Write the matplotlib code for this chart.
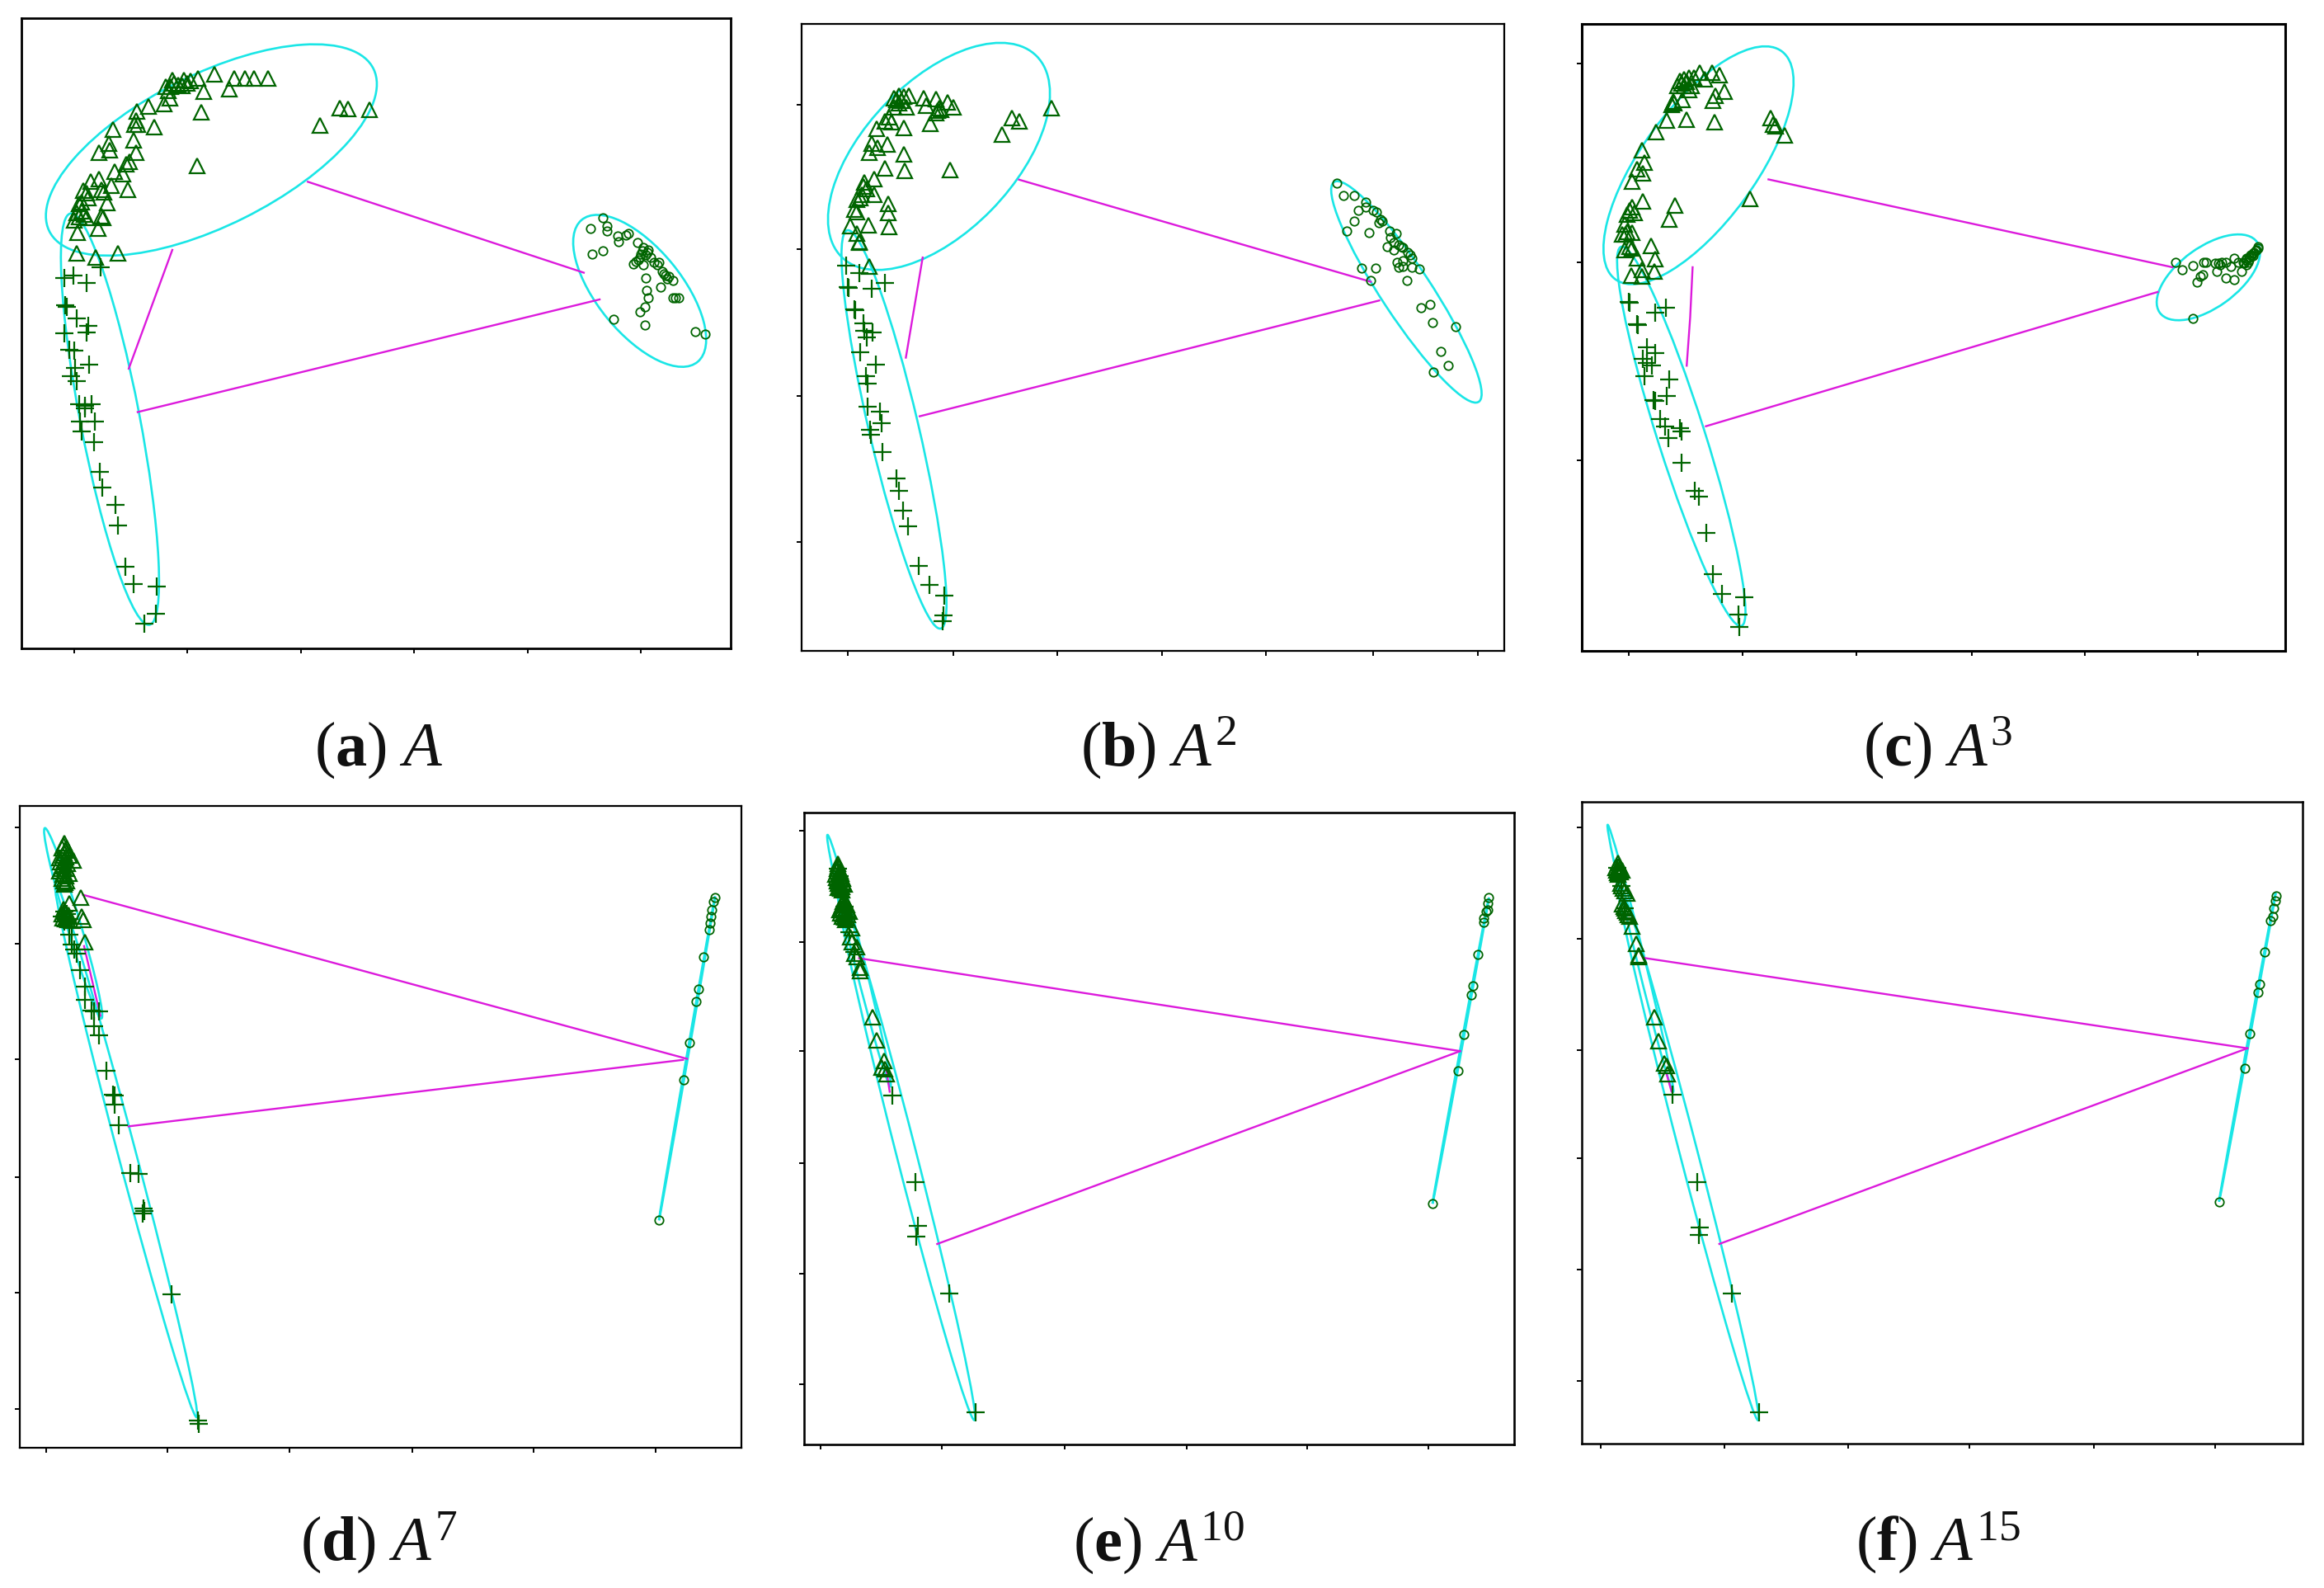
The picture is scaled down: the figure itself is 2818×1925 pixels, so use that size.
import matplotlib
matplotlib.use("Agg")
import matplotlib.pyplot as plt
from matplotlib.patches import Ellipse

plt.rcParams['mathtext.fontset'] = 'custom'
plt.rcParams['mathtext.rm'] = 'Liberation Serif'
plt.rcParams['mathtext.it'] = 'Liberation Serif:italic'
plt.rcParams['mathtext.bf'] = 'Liberation Serif:bold'

W, H = 2818, 1925

a_tri = [(348,158),(372,158),(400,155),(433,147),(473,155),(495,155),(513,155),(541,156),(335,172),(345,172),(360,168),(378,165),
         (412,182),(463,176),(343,195),(332,206),(300,210),(276,220),(407,223),(274,238),(272,246),(278,246),(312,252),(228,256),
         (686,214),(703,216),(746,217),(646,249),(270,278),(220,285),(275,302),(200,302),(222,298),(398,328),(262,320),(255,325),
         (232,340),(248,344),(200,354),(183,360),(225,368),(168,378),(205,375),(258,375),(175,383),(210,380),(178,392),(160,404),
         (216,402),(165,418),(155,422),(205,428),(150,436),(175,432),(157,460),(198,453),(155,502),(193,510),(238,502),
         (352,165),(368,170),(385,160),(340,180),(165,400),(170,425),(160,430),(208,432)]
a_plus = [(130,550),(148,545),(175,560),(203,530),(132,605),(135,608),(155,630),(130,660),(178,645),(175,658),(140,693),(150,695),
          (152,728),(180,722),(143,745),(155,755),(160,800),(172,803),(185,800),(172,808),(162,835),(192,835),(165,855),(190,875),
          (202,935),(207,965),(233,1000),(238,1040),(253,1122),(270,1156),(316,1162),(315,1215),(292,1235)]
a_circ = [(1218,432),(1193,453),(1227,447),(1227,458),(1248,467),(1265,465),(1270,462),(1250,478),(1288,480),(1197,503),(1218,496),
          (1300,490),(1310,495),(1295,503),(1305,505),(1315,510),(1290,515),(1280,522),(1300,525),(1322,520),(1332,520),(1338,538),
          (1345,545),(1352,548),(1360,555),(1306,550),(1336,568),(1307,575),(1310,590),(1360,590),(1366,590),(1372,590),(1303,607),
          (1294,618),(1241,633),(1303,644),(1405,657),(1425,661),(1298,497),(1308,500),(1286,518),(1294,510),(1328,525),(1342,542),(1349,552)]
a_ell = [(427,297,365,150,-26),(222,830,415,60,78.9),(1293,576,183,85,50)]
a_lines = [[(622,360),(1180,540)],[(348,495),(260,730)],[(278,816),(1212,593)]]
a_xt = [150,378,608,837,1067,1296]
a_yt = []

b_tri = [(240,195),(250,190),(260,192),(270,190),(300,195),(325,197),(348,203),(360,213),(250,205),(240,212),(265,212),(305,210),
         (332,215),(325,225),(558,214),(478,234),(494,240),(313,245),(458,267),(230,232),(222,240),(235,242),(205,255),(260,254),
         (195,285),(207,292),(226,286),(190,303),(260,306),(222,333),(262,339),(354,336),(200,355),(180,362),(185,375),(175,385),
         (200,385),(165,395),(228,404),(160,415),(228,422),(152,447),(188,446),(230,450),(165,462),(170,480),(190,528),
         (245,198),(255,200),(328,220),(335,218),(178,370),(172,392),(165,420),(170,478)]
b_plus = [(143,526),(170,540),(146,568),(148,570),(195,572),(222,560),(160,612),(162,614),(178,640),(180,655),(197,658),(185,668),
          (172,698),(203,722),(183,745),(186,760),(187,805),(212,815),(215,838),(192,850),(194,860),(217,895),(245,947),(250,972),
          (258,1010),(268,1042),(290,1120),(312,1157),(342,1178),(340,1218),(338,1230)]
b_circ = [(1136,363),(1150,388),(1172,388),(1195,400),(1180,417),(1195,410),(1210,417),(1217,420),(1225,435),(1172,438),(1157,457),
          (1202,460),(1243,458),(1256,462),(1245,470),(1252,480),(1238,488),(1262,485),(1270,490),(1252,495),(1285,505),(1288,512),
          (1258,520),(1270,517),(1262,530),(1270,528),(1288,530),(1303,532),(1187,531),(1215,531),(1205,555),(1278,555),(1325,603),
          (1307,609),(1329,638),(1377,646),(1347,695),(1361,723),(1332,737),(1228,438),(1222,442),(1266,488),(1280,500)]
b_ell = [(331,310,280,150,-45),(240,850,405,50,76.5),(1277,578,262,50,56)]
b_lines = [[(493,356),(1205,558)],[(298,510),(264,708)],[(292,824),(1222,595)]]
b_xt = [147,360,570,782,993,1209,1421]
b_yt = [208,494,784,1073]

c_tri = [(263,160),(270,158),(280,155),(290,155),(303,145),(327,145),(342,150),(258,170),(270,170),(285,170),(312,158),(280,178),
         (352,182),(335,190),(330,200),(250,205),(245,208),(268,198),(236,239),(275,238),(333,242),(214,262),(447,235),(452,247),
         (457,250),(475,268),(185,298),(190,322),(175,335),(187,343),(165,360),(187,400),(253,407),(405,395),(240,435),(165,410),
         (155,425),(170,422),(150,445),(155,460),(145,465),(165,462),(160,490),(150,495),(203,487),(175,512),(212,513),(185,535),
         (210,538),(163,546),(185,548),(265,165),(275,162),(248,202),(160,418),(152,465),(165,492)]
c_plus = [(158,598),(160,600),(233,610),(212,620),(175,643),(177,645),(195,688),(212,700),(187,712),(195,720),(205,725),(190,745),
          (240,752),(235,785),(208,793),(212,795),(222,830),(232,845),(262,848),(265,855),(238,868),(266,917),(292,973),(300,985),
          (316,1056),(330,1138),(347,1178),(392,1183),(381,1218),(383,1243)]
c_circ = [(1268,521),(1282,535),(1303,527),(1325,520),(1330,520),(1323,545),(1312,560),(1318,548),(1348,522),(1352,538),(1358,525),
          (1370,520),(1380,528),(1388,512),(1402,538),(1370,552),(1387,555),(1395,520),(1405,520),(1410,515),(1418,510),(1425,502),
          (1430,497),(1435,492),(1420,505),(1415,520),(1303,631),(1355,522),(1362,520),(1408,522),(1413,512),(1422,508),(1428,500),
          (1433,495),(1436,490),(1418,515),(1412,525),(1425,507)]
c_ell = [(300,328,282,115,-53),(265,865,395,48,72),(1335,550,121,60,-35)]
c_lines = [[(442,356),(1262,530)],[(288,530),(283,630),(276,725)],[(315,845),(1232,579)]]
c_xt = [159,390,620,855,1085,1314]
c_yt = [127,520,913]

d_tri = [(130,100),(125,110),(135,110),(130,120),(140,125),(148,135),(120,130),(130,135),(125,145),(135,150),(120,155),(130,160),
         (140,160),(125,170),(135,175),(130,182),(163,208),(140,218),(165,245),(168,252),(172,295),(130,235),(125,240),(135,245),
         (128,105),(132,115),(126,125),(134,128),(122,138),(128,142),(136,140),(124,150),(130,150),(126,162),(134,165),(128,175),
         (132,178),(128,230),(133,238),(138,242),(126,248),(131,250),(137,252)]
d_plus = [(130,235),(135,240),(125,245),(140,250),(130,255),(145,268),(140,280),(145,300),(150,310),(155,318),(162,350),(172,382),
          (172,408),(185,430),(190,432),(200,432),(190,460),(200,478),(216,548),(228,595),(232,598),(232,615),(240,655),(263,750),
          (280,752),(290,820),(292,825),(288,830),(347,989),(400,1238),(402,1244)]
d_circ = [(1447,207),(1443,215),(1440,232),(1438,245),(1436,258),(1435,271),(1424,325),(1413,388),(1409,412),(1395,493),(1383,566),(1333,843)]
d_ell = [(148,258,196,14,73),(255,705,545,18,74.8),(1390,524,324,1.5,-79.9)]
d_lines = [[(168,202),(1390,525)],[(170,303),(203,440)],[(260,658),(1382,527)]]
d_xt = [93,339,585,834,1080,1327]
d_yt = [70,298,525,758,985,1215]

e_tri = [(127,140),(125,150),(132,155),(122,162),(130,165),(138,170),(125,175),(132,180),(140,182),(128,188),(135,192),(140,212),
         (135,222),(145,222),(130,232),(140,235),(150,235),(135,245),(145,248),(155,268),(152,285),(155,295),(165,305),(160,318),
         (165,325),(172,345),(172,352),(198,443),(206,488),(220,530),(215,542),(222,545),(225,555),
         (128,145),(126,155),(130,158),(134,160),(124,168),(128,170),(133,172),(137,176),(127,180),(130,184),(135,186),(132,190),
         (138,215),(142,218),(134,228),(138,230),(143,230),(147,232),(133,238),(137,240),(142,242),(147,242),(140,247),(143,252)]
e_plus = [(127,150),(130,165),(135,195),(140,225),(150,275),(160,315),(237,597),(284,768),(289,855),(286,875),(352,988),(405,1222)]
e_circ = [(1443,207),(1440,218),(1440,232),(1437,235),(1432,248),(1433,256),(1421,320),(1411,381),(1407,400),(1392,478),(1381,549),(1329,811)]
e_ell = [(170,332,256,10,75.6),(265,710,545,20,75.3),(1386,509,307,1.5,-79.3)]
e_lines = [[(170,327),(1385,510)],[(225,545),(232,590)],[(328,890),(1385,510)]]
e_xt = [93,338,585,832,1076,1321]
e_yt = [76,295,510,730,948,1167]

f_tri = [(137,140),(132,150),(140,152),(145,155),(135,160),(143,185),(150,195),(155,200),(145,222),(150,230),(155,238),(160,245),
         (165,265),(173,300),(178,322),(178,325),(210,443),(218,490),(230,535),(235,540),(237,555),
         (138,146),(134,154),(138,156),(142,158),(136,163),(141,180),(146,190),(148,226),(152,234),(157,242)]
f_plus = [(135,150),(143,185),(150,230),(247,597),(298,768),(303,858),(300,873),(368,987),(422,1222)]
f_circ = [(1471,205),(1469,215),(1467,230),(1464,245),(1460,254),(1448,316),(1438,378),(1434,395),(1418,476),(1408,544),(1356,807)]
f_ell = [(182,328,271,8,75.8),(278,704,552,18,75),(1413,503,309,1.5,-79.3)]
f_lines = [[(188,327),(1413,505)],[(235,555),(245,590)],[(342,890),(1413,505)]]
f_xt = [102,352,603,850,1101,1348]
f_yt = [70,290,508,722,940,1160]

tri_sets = [a_tri, b_tri, c_tri, d_tri, e_tri, f_tri]
plus_sets = [a_plus, b_plus, c_plus, d_plus, e_plus, f_plus]
circ_sets = [a_circ, b_circ, c_circ, d_circ, e_circ, f_circ]
ell_sets = [a_ell, b_ell, c_ell, d_ell, e_ell, f_ell]
line_sets = [a_lines, b_lines, c_lines, d_lines, e_lines, f_lines]
xtick_sets = [a_xt, b_xt, c_xt, d_xt, e_xt, f_xt]
ytick_sets = [a_yt, b_yt, c_yt, d_yt, e_yt, f_yt]

letters = ["a", "b", "c", "d", "e", "f"]
powers = ["", "2", "3", "7", "10", "15"]

# frame in image pixels, then the same frame in data units
frames_px = [(26, 886, 22, 786), (972, 1824, 29, 789), (1918, 2771, 29, 789),
             (24, 899, 977, 1755), (975, 1836, 985, 1751), (1918, 2792, 972, 1750)]
frames_data = [(43, 1477, 36, 1284), (53, 1475, 48, 1288), (63, 1491, 48, 1290),
               (40, 1500, 27, 1291), (59, 1494, 40, 1285), (63, 1525, 20, 1283)]
spine_w = [2.0, 1.6, 2.2, 1.6, 1.9, 1.8]
cap_x = [459, 1405, 2350, 459, 1405, 2350]
cap_y = [928, 928, 928, 1892, 1892, 1892]

green = "#006400"
cyan = "#1ae6e6"
magenta = "#dc1adc"

fig = plt.figure(figsize=(W / 100, H / 100), dpi=100)

for i in range(6):
    l, r, t, b = frames_px[i]
    ax = fig.add_axes([l / W, 1 - b / H, (r - l) / W, (b - t) / H])
    dl, dr, dt, db = frames_data[i]

    for seg in line_sets[i]:
        ax.plot([p[0] for p in seg], [p[1] for p in seg], color=magenta, lw=1.7)
    for cx, cy, a, c, ang in ell_sets[i]:
        ax.add_patch(Ellipse((cx, cy), 2 * a, 2 * c, angle=ang, fill=False, ec=cyan, lw=1.9))

    ax.plot([p[0] for p in tri_sets[i]], [p[1] for p in tri_sets[i]], ls="none", marker="^",
            ms=13, mfc="none", mec=green, mew=1.6)
    ax.plot([p[0] for p in plus_sets[i]], [p[1] for p in plus_sets[i]], ls="none", marker="+",
            ms=16.5, mec=green, mew=1.6)
    ax.plot([p[0] for p in circ_sets[i]], [p[1] for p in circ_sets[i]], ls="none", marker="o",
            ms=7.5, mfc="none", mec=green, mew=1.3)

    ax.set_xlim(dl, dr)
    ax.set_ylim(db, dt)
    ax.set_xticks(xtick_sets[i])
    ax.set_yticks(ytick_sets[i])
    ax.tick_params(labelbottom=False, labelleft=False, length=4, width=1.4)
    for s in ax.spines.values():
        s.set_linewidth(spine_w[i])

    power = "^{%s}" % powers[i] if powers[i] else ""
    fig.text(cap_x[i] / W, 1 - cap_y[i] / H, r"$(\mathbf{%s})\ \mathit{A}%s$" % (letters[i], power),
             fontsize=55, ha="center", va="baseline", color="#111111")

fig.savefig("out.png", dpi=100)
